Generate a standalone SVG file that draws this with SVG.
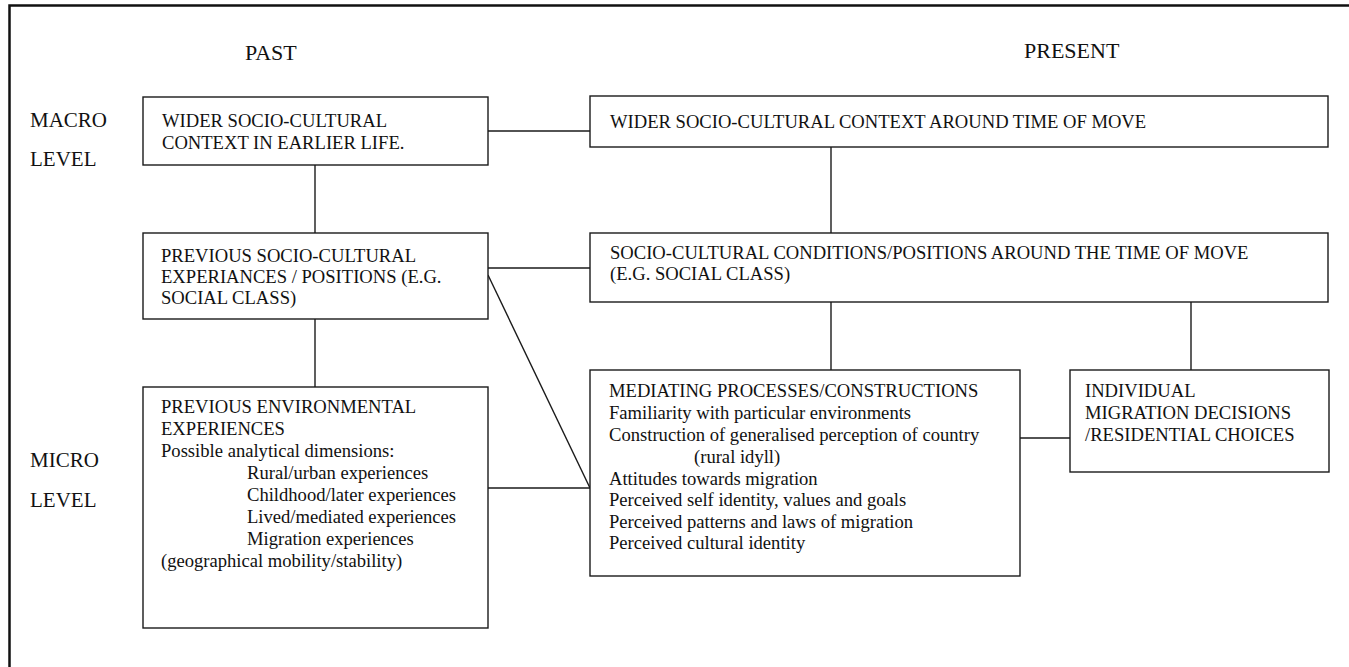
<svg xmlns="http://www.w3.org/2000/svg" width="1349" height="667" viewBox="0 0 1349 667">
<style>
text{font-family:"Liberation Serif","Times New Roman",serif;fill:#111;}
.b{font-size:18.6px;}
.h{font-size:22px;}
.l{font-size:21px;}
.box{fill:#fff;stroke:#1a1a1a;stroke-width:1.4;}
.c{fill:none;stroke:#1a1a1a;stroke-width:1.4;}
</style>
<rect width="1349" height="667" fill="#fff"/>
<path d="M9.5,667 V5.5 H1349" fill="none" stroke="#111" stroke-width="2.5"/>
<g id="labels">
<text class="h" x="245" y="60">PAST</text>
<text class="h" x="1024" y="58">PRESENT</text>
<text class="l" x="30" y="127">MACRO</text>
<text class="l" x="30" y="166">LEVEL</text>
<text class="l" x="30" y="467">MICRO</text>
<text class="l" x="30" y="507">LEVEL</text>
</g>
<g id="connectors">
<line class="c" x1="488" y1="131" x2="590" y2="131"/>
<line class="c" x1="315" y1="165" x2="315" y2="233"/>
<line class="c" x1="315" y1="319" x2="315" y2="387"/>
<line class="c" x1="831" y1="147" x2="831" y2="233"/>
<line class="c" x1="488" y1="268" x2="590" y2="268"/>
<line class="c" x1="488" y1="275" x2="590" y2="488"/>
<line class="c" x1="488" y1="488" x2="590" y2="488"/>
<line class="c" x1="831" y1="302" x2="831" y2="370"/>
<line class="c" x1="1191" y1="302" x2="1191" y2="370"/>
<line class="c" x1="1020" y1="438" x2="1070" y2="438"/>
</g>
<g id="past-macro">
<rect class="box" x="143" y="97" width="345" height="68"/>
<text class="b" x="162" y="127">WIDER SOCIO-CULTURAL</text>
<text class="b" x="162" y="149">CONTEXT IN EARLIER LIFE.</text>
</g>
<g id="present-macro">
<rect class="box" x="590" y="96" width="738" height="51"/>
<text class="b" x="610" y="128">WIDER SOCIO-CULTURAL CONTEXT AROUND TIME OF MOVE</text>
</g>
<g id="past-socio">
<rect class="box" x="143" y="233" width="345" height="86"/>
<text class="b" x="161" y="262">PREVIOUS SOCIO-CULTURAL</text>
<text class="b" x="161" y="283">EXPERIANCES / POSITIONS (E.G.</text>
<text class="b" x="161" y="304">SOCIAL CLASS)</text>
</g>
<g id="present-socio">
<rect class="box" x="590" y="233" width="738" height="69"/>
<text class="b" x="610" y="259">SOCIO-CULTURAL CONDITIONS/POSITIONS AROUND THE TIME OF MOVE</text>
<text class="b" x="610" y="280">(E.G. SOCIAL CLASS)</text>
</g>
<g id="past-env">
<rect class="box" x="143" y="387" width="345" height="241"/>
<text class="b" x="161" y="413">PREVIOUS ENVIRONMENTAL</text>
<text class="b" x="161" y="435">EXPERIENCES</text>
<text class="b" x="161" y="457">Possible analytical dimensions:</text>
<text class="b" x="247" y="479">Rural/urban experiences</text>
<text class="b" x="247" y="501">Childhood/later experiences</text>
<text class="b" x="247" y="523">Lived/mediated experiences</text>
<text class="b" x="247" y="545">Migration experiences</text>
<text class="b" x="161" y="567">(geographical mobility/stability)</text>
</g>
<g id="mediating">
<rect class="box" x="590" y="370" width="430" height="206"/>
<text class="b" x="609" y="397">MEDIATING PROCESSES/CONSTRUCTIONS</text>
<text class="b" x="609" y="419">Familiarity with particular environments</text>
<text class="b" x="609" y="441">Construction of generalised perception of country</text>
<text class="b" x="694" y="463">(rural idyll)</text>
<text class="b" x="609" y="485">Attitudes towards migration</text>
<text class="b" x="609" y="506">Perceived self identity, values and goals</text>
<text class="b" x="609" y="528">Perceived patterns and laws of migration</text>
<text class="b" x="609" y="549">Perceived cultural identity</text>
</g>
<g id="decisions">
<rect class="box" x="1070" y="370" width="259" height="102"/>
<text class="b" x="1085" y="397">INDIVIDUAL</text>
<text class="b" x="1085" y="419">MIGRATION DECISIONS</text>
<text class="b" x="1085" y="441">/RESIDENTIAL CHOICES</text>
</g>
</svg>
